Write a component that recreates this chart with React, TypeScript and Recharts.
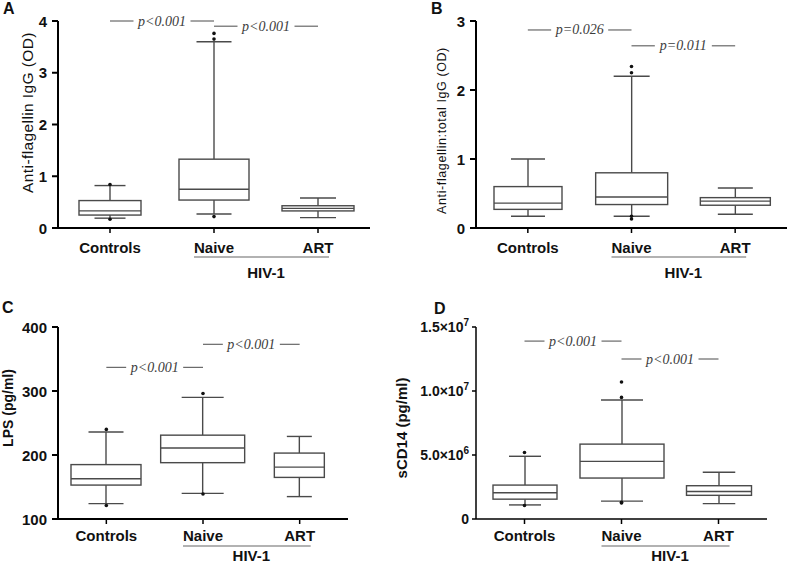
import { Bar, ComposedChart, ReferenceLine, Scatter, XAxis, YAxis } from "recharts";

const CATEGORIES = ["Controls", "Naive", "ART"];
const GROUP = { label: "HIV-1", from: "Naive", to: "ART" };

// A: anti-flagellin IgG (OD)
const aLow = [0.19, 0.27, 0.2];
const aQ1 = [0.25, 0.54, 0.33];
const aMedian = [0.33, 0.75, 0.38];
const aQ3 = [0.53, 1.33, 0.43];
const aHigh = [0.82, 3.6, 0.58];
const aOutliers = [[0.84, 0.17], [3.76, 3.65, 0.22], []];
const aTicks = [0, 1, 2, 3, 4];
const aPValues = [
  { from: "Controls", to: "Naive", y: 4.0, text: "p<0.001" },
  { from: "Naive", to: "ART", y: 3.9, text: "p<0.001" },
];

// B: anti-flagellin : total IgG (OD)
const bLow = [0.17, 0.17, 0.2];
const bQ1 = [0.27, 0.34, 0.33];
const bMedian = [0.36, 0.45, 0.39];
const bQ3 = [0.6, 0.8, 0.44];
const bHigh = [1.0, 2.2, 0.58];
const bOutliers = [[], [2.34, 2.25, 0.17, 0.13], []];
const bTicks = [0, 1, 2, 3];
const bPValues = [
  { from: "Controls", to: "Naive", y: 2.87, text: "p=0.026" },
  { from: "Naive", to: "ART", y: 2.64, text: "p=0.011" },
];

// C: LPS (pg/ml)
const cLow = [124, 140, 135];
const cQ1 = [153, 188, 165];
const cMedian = [163, 211, 181];
const cQ3 = [185, 231, 203];
const cHigh = [236, 290, 229];
const cOutliers = [[240, 121], [296, 139], []];
const cTicks = [100, 200, 300, 400];
const cPValues = [
  { from: "Controls", to: "Naive", y: 337, text: "p<0.001" },
  { from: "Naive", to: "ART", y: 373, text: "p<0.001" },
];

// D: sCD14 (pg/ml)
const dLow = [1.1e6, 1.4e6, 1.2e6];
const dQ1 = [1.55e6, 3.2e6, 1.85e6];
const dMedian = [2.05e6, 4.5e6, 2.15e6];
const dQ3 = [2.65e6, 5.85e6, 2.6e6];
const dHigh = [4.9e6, 9.3e6, 3.65e6];
const dOutliers = [[5.2e6, 1.05e6], [1.07e7, 9.5e6, 1.25e6, 1.3e6], []];
const dTicks = [0, 5e6, 1e7, 1.5e7];
const dPValues = [
  { from: "Controls", to: "Naive", y: 1.39e7, text: "p<0.001" },
  { from: "Naive", to: "ART", y: 1.25e7, text: "p<0.001" },
];

const MAX_OUT = 4;
const SANS = '"Liberation Sans", Arial, sans-serif';
const SERIF = '"Liberation Serif", "Times New Roman", serif';
const BOX = "#4a4a4a";

function buildRows(low, q1, median, q3, high, outliers) {
  return CATEGORIES.map((name, i) => {
    const row: any = { name, range: [low[i], high[i]], low: low[i], q1: q1[i], median: median[i], q3: q3[i], high: high[i] };
    for (let k = 0; k < MAX_OUT; k++) row[`o${k}`] = outliers[i][k] ?? null;
    return row;
  });
}

/** Box + whiskers drawn inside the [low, high] range bar recharts lays out. */
const makeBoxShape = (boxWidths: number[]) => (props: any) => {
  const { x, y, width, height, payload, index } = props;
  if (x == null || y == null) return <g />;
  const top = Math.min(y, y + height);
  const bottom = Math.max(y, y + height);
  const span = payload.high - payload.low || 1;
  const toY = (v: number) => bottom - ((v - payload.low) / span) * (bottom - top);
  const cx = x + width / 2;
  const bw = boxWidths[index] ?? width;
  const cap = bw / 2;
  const yQ1 = toY(payload.q1);
  const yQ3 = toY(payload.q3);
  const yMed = toY(payload.median);
  return (
    <g stroke={BOX} strokeWidth={1.4} fill="none">
      <line x1={cx} x2={cx} y1={top} y2={yQ3} />
      <line x1={cx} x2={cx} y1={yQ1} y2={bottom} />
      <line x1={cx - cap / 2} x2={cx + cap / 2} y1={top} y2={top} />
      <line x1={cx - cap / 2} x2={cx + cap / 2} y1={bottom} y2={bottom} />
      <rect x={cx - bw / 2} y={yQ3} width={bw} height={yQ1 - yQ3} fill="#fff" />
      <line x1={cx - bw / 2} x2={cx + bw / 2} y1={yMed} y2={yMed} />
    </g>
  );
};

const makeDot = (key: string) => (props: any) => {
  if (props.payload?.[key] == null || props.cx == null || props.cy == null) return <g />;
  return <circle cx={props.cx} cy={props.cy} r={1.8} fill="#111" />;
};

const PLabel = ({ viewBox, text }: any) => {
  if (!viewBox) return null;
  const cx = viewBox.x + viewBox.width / 2;
  const cy = viewBox.y;
  const w = text.length * 7 + 8;
  return (
    <g>
      <rect x={cx - w / 2} y={cy - 8} width={w} height={16} fill="#fff" />
      <text x={cx} y={cy + 4.5} textAnchor="middle" fontFamily={SERIF} fontStyle="italic" fontSize={14} fill="#3c3c3c">
        {text}
      </text>
    </g>
  );
};

const YLabel = ({ viewBox, text, dx, dy, size, weight, spacing }: any) => {
  if (!viewBox) return null;
  const x = viewBox.x + viewBox.width + dx;
  const y = viewBox.y + viewBox.height / 2 + dy;
  return (
    <text
      x={x}
      y={y}
      transform={`rotate(-90 ${x} ${y})`}
      textAnchor="middle"
      dominantBaseline="central"
      fontFamily={SANS}
      fontSize={size}
      fontWeight={weight}
      letterSpacing={spacing}
      fill="#111"
    >
      {text}
    </text>
  );
};

const XTick = ({ x, y, payload, labelDy, lineDy, groupDy, band }: any) => (
  <g>
    <text x={x} y={y + labelDy} textAnchor="middle" fontFamily={SANS} fontSize={15} fontWeight="bold" fill="#111">
      {payload.value}
    </text>
    {payload.value === GROUP.from && (
      <g>
        <line x1={x - 20} x2={x + band + 11} y1={y + lineDy} y2={y + lineDy} stroke="#666" strokeWidth={1.2} />
        <text x={x + band / 2} y={y + groupDy} textAnchor="middle" fontFamily={SANS} fontSize={15} fontWeight="bold" fill="#111">
          {GROUP.label}
        </text>
      </g>
    )}
  </g>
);

const YTick = ({ x, y, payload }: any) => (
  <text x={x} y={y + 5.5} textAnchor="end" fontFamily={SANS} fontSize={15} fontWeight="bold" fill="#111">
    {payload.value}
  </text>
);

const SciTick = ({ x, y, payload }: any) => {
  const v = payload.value;
  if (v === 0)
    return (
      <text x={x} y={y + 5} textAnchor="end" fontFamily={SANS} fontSize={14} fontWeight="bold" fill="#111">
        0
      </text>
    );
  const exp = Math.floor(Math.log10(v));
  const mant = (v / Math.pow(10, exp)).toFixed(1);
  return (
    <text x={x} y={y + 5} textAnchor="end" fontFamily={SANS} fontSize={14} fontWeight="bold" fill="#111">
      <tspan>{mant}×10</tspan>
      <tspan dy={-6} fontSize={10}>
        {exp}
      </tspan>
    </text>
  );
};

function BoxPanel({ rows, ticks, pValues, box, style }: any) {
  const { width, height, margin, yWidth, xHeight, axisStroke, tickDy, boxWidths, ylabel, sci } = style;
  const band = (width - margin.left - margin.right - yWidth) / CATEGORIES.length;
  return (
    <ComposedChart width={width} height={height} data={rows} margin={margin}>
      <XAxis
        dataKey="name"
        interval={0}
        height={xHeight}
        tickSize={5}
        tickMargin={0}
        axisLine={{ stroke: "#000", strokeWidth: axisStroke }}
        tickLine={{ stroke: "#000", strokeWidth: 1.5 }}
        tick={<XTick band={band} {...tickDy} />}
      />
      <YAxis
        type="number"
        domain={[ticks[0], ticks[ticks.length - 1]]}
        ticks={ticks}
        width={yWidth}
        tickSize={sci ? 4 : 6}
        tickMargin={sci ? 3 : 5}
        axisLine={{ stroke: "#000", strokeWidth: axisStroke }}
        tickLine={{ stroke: "#000", strokeWidth: axisStroke }}
        tick={sci ? <SciTick /> : <YTick />}
        label={<YLabel {...ylabel} />}
      />
      <Bar dataKey="range" barSize={box} shape={makeBoxShape(boxWidths)} isAnimationActive={false} />
      {Array.from({ length: MAX_OUT }, (_, k) => (
        <Scatter key={k} dataKey={`o${k}`} shape={makeDot(`o${k}`)} isAnimationActive={false} />
      ))}
      {pValues.map((p) => (
        <ReferenceLine
          key={p.text + p.y}
          segment={[
            { x: p.from, y: p.y },
            { x: p.to, y: p.y },
          ]}
          stroke="#4a4a4a"
          strokeWidth={1}
          ifOverflow="visible"
          label={<PLabel text={p.text} />}
        />
      ))}
    </ComposedChart>
  );
}

const topDy = { labelDy: 19.5, lineDy: 24, groupDy: 44.5 };
const bottomDy = { labelDy: 16.5, lineDy: 22, groupDy: 36.5 };

const panels = [
  {
    letter: "A",
    pos: { left: 0, top: 0 },
    letterPos: { left: 3, top: 0 },
    rows: buildRows(aLow, aQ1, aMedian, aQ3, aHigh, aOutliers),
    ticks: aTicks,
    pValues: aPValues,
    style: {
      width: 394, height: 281, margin: { top: 21, right: 24, left: 0, bottom: 0 }, yWidth: 58, xHeight: 53,
      axisStroke: 2, tickDy: topDy, boxWidths: [62, 70, 72],
      ylabel: { text: "Anti-flagellin IgG (OD)", dx: -31, dy: -12, size: 15.5, weight: "normal", spacing: 0.4 },
    },
  },
  {
    letter: "B",
    pos: { left: 394, top: 0 },
    letterPos: { left: 37, top: 0 },
    rows: buildRows(bLow, bQ1, bMedian, bQ3, bHigh, bOutliers),
    ticks: bTicks,
    pValues: bPValues,
    style: {
      width: 395, height: 281, margin: { top: 21, right: 2, left: 0, bottom: 0 }, yWidth: 82, xHeight: 53,
      axisStroke: 2, tickDy: topDy, boxWidths: [68, 72, 70],
      ylabel: { text: "Anti-flagellin:total IgG (OD)", dx: -34, dy: 6, size: 12.5, weight: "normal", spacing: 0.6 },
    },
  },
  {
    letter: "C",
    pos: { left: 0, top: 281 },
    letterPos: { left: 2, top: 18 },
    rows: buildRows(cLow, cQ1, cMedian, cQ3, cHigh, cOutliers),
    ticks: cTicks,
    pValues: cPValues,
    style: {
      width: 394, height: 282, margin: { top: 46, right: 46, left: 0, bottom: 0 }, yWidth: 58, xHeight: 44,
      axisStroke: 2, tickDy: bottomDy, boxWidths: [70, 84, 50],
      ylabel: { text: "LPS (pg/ml)", dx: -50, dy: -15, size: 14, weight: "bold", spacing: 0 },
    },
  },
  {
    letter: "D",
    pos: { left: 394, top: 281 },
    letterPos: { left: 40, top: 19 },
    rows: buildRows(dLow, dQ1, dMedian, dQ3, dHigh, dOutliers),
    ticks: dTicks,
    pValues: dPValues,
    style: {
      width: 395, height: 282, margin: { top: 46, right: 22, left: 0, bottom: 0 }, yWidth: 82, xHeight: 44,
      axisStroke: 1.5, tickDy: bottomDy, boxWidths: [64, 84, 65], sci: true,
      ylabel: { text: "sCD14 (pg/ml)", dx: -75, dy: 5, size: 15, weight: "bold", spacing: 0 },
    },
  },
];

export default function App() {
  return (
    <div style={{ position: "fixed", left: 0, top: 0, width: 789, height: 563, background: "#fff", fontFamily: SANS }}>
      {panels.map((p) => (
        <div key={p.letter} style={{ position: "absolute", left: p.pos.left, top: p.pos.top }}>
          <BoxPanel rows={p.rows} ticks={p.ticks} pValues={p.pValues} box={60} style={p.style} />
          <div
            style={{
              position: "absolute",
              left: p.letterPos.left,
              top: p.letterPos.top,
              fontSize: 16,
              lineHeight: "18px",
              fontWeight: "bold",
              color: "#111",
            }}
          >
            {p.letter}
          </div>
        </div>
      ))}
    </div>
  );
}
